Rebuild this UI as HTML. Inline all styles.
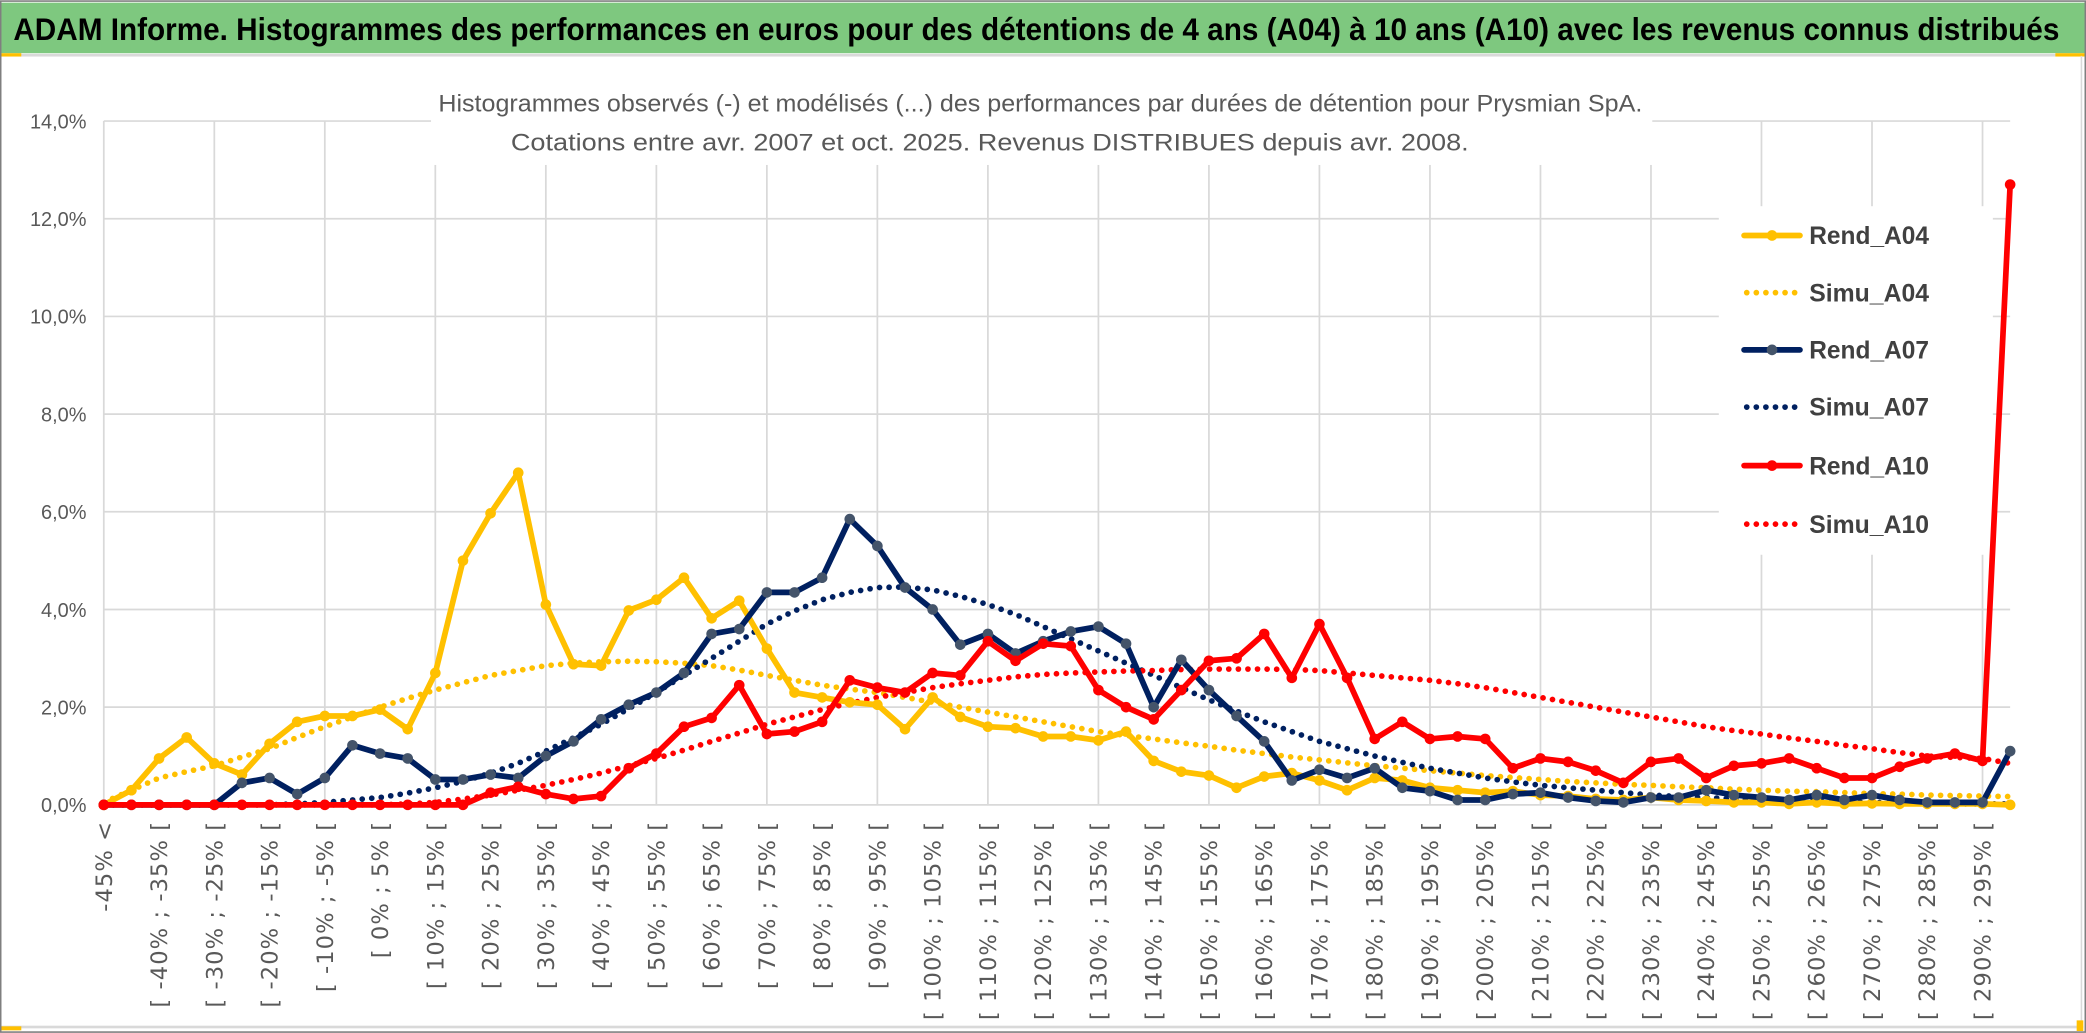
<!DOCTYPE html>
<html><head><meta charset="utf-8"><style>
html,body{margin:0;padding:0;background:#fff;}
svg{display:block;}
</style></head><body>
<svg id="chart" width="2086" height="1033" viewBox="0 0 1568 776.5" xmlns="http://www.w3.org/2000/svg">
<rect x="0" y="0" width="1568" height="776.5" fill="#fff"/>
<rect x="1" y="2" width="1566" height="38" fill="#7ec87f"/>
<text x="10" y="30" font-family="Liberation Sans, sans-serif" font-weight="bold" font-size="24" fill="#000" textLength="1538" lengthAdjust="spacingAndGlyphs">ADAM Informe. Histogrammes des performances en euros pour des détentions de 4 ans (A04) à 10 ans (A10) avec les revenus connus distribués</text>
<rect x="0" y="40.5" width="1566" height="2" fill="#d9d9d9"/>
<rect x="0" y="40" width="16" height="2.5" fill="#ffc000"/>
<rect x="1545" y="40" width="23" height="2.5" fill="#ffc000"/>
<rect x="1564" y="42" width="1.2" height="730" fill="#d9d9d9"/>
<rect x="0" y="771" width="1566" height="2" fill="#d9d9d9"/>
<rect x="0" y="771.5" width="16" height="3" fill="#ffc000"/>
<rect x="1561" y="767" width="5" height="8" fill="#ffc000"/>
<rect x="0.5" y="0.8" width="1567" height="775" fill="none" stroke="#7f7f7f" stroke-width="1.2"/>
<g id="grid"></g>
<g id="ylabels"></g>
<g id="xlabels"></g>
<rect x="324" y="58" width="918" height="66" fill="#fff"/>
<text x="782" y="84" text-anchor="middle" font-family="Liberation Sans, sans-serif" font-size="18" fill="#595959" textLength="905" lengthAdjust="spacingAndGlyphs">Histogrammes observés (-) et modélisés (...) des performances par durées de détention pour Prysmian SpA.</text>
<text x="744" y="113" text-anchor="middle" font-family="Liberation Sans, sans-serif" font-size="18" fill="#595959" textLength="720" lengthAdjust="spacingAndGlyphs">Cotations entre avr. 2007 et oct. 2025. Revenus DISTRIBUES depuis avr. 2008.</text>
<rect x="1292" y="155" width="206" height="262" fill="#fff"/>
<g id="series"></g>
<g id="legend"></g>
</svg>
<script>
const categories = ["-45% <"];
for (let a = -45; a < 300; a += 5) categories.push("[ " + a + "% ; " + (a + 5) + "% [");
const yTicks = [0, 2, 4, 6, 8, 10, 12, 14];
const yTickLabels = ["0,0%", "2,0%", "4,0%", "6,0%", "8,0%", "10,0%", "12,0%", "14,0%"];
const rendA04 = [0,0.3,0.95,1.38,0.85,0.62,1.25,1.7,1.82,1.82,1.95,1.55,2.7,5.0,5.97,6.8,4.1,2.88,2.85,3.98,4.2,4.65,3.82,4.18,3.2,2.3,2.2,2.1,2.05,1.55,2.2,1.8,1.6,1.57,1.4,1.4,1.32,1.5,0.9,0.68,0.6,0.35,0.58,0.65,0.5,0.3,0.55,0.5,0.35,0.3,0.25,0.28,0.2,0.18,0.12,0.1,0.15,0.1,0.08,0.05,0.05,0.02,0.05,0.02,0.03,0.02,0.02,0.02,0.02,0.0];
const simuA04 = [0.05,0.3,0.55,0.68,0.8,0.98,1.15,1.38,1.6,1.8,2.0,2.18,2.35,2.5,2.65,2.75,2.85,2.9,2.93,2.94,2.93,2.9,2.85,2.76,2.65,2.55,2.45,2.37,2.3,2.2,2.1,2.0,1.9,1.8,1.7,1.6,1.5,1.42,1.35,1.27,1.2,1.12,1.05,0.98,0.92,0.86,0.8,0.75,0.7,0.65,0.6,0.56,0.52,0.48,0.45,0.42,0.4,0.37,0.35,0.32,0.3,0.28,0.27,0.25,0.23,0.22,0.2,0.19,0.18,0.17];
const rendA07 = [0,0,0,0,0,0.45,0.55,0.22,0.55,1.22,1.05,0.95,0.52,0.52,0.62,0.55,1.0,1.3,1.75,2.05,2.3,2.7,3.5,3.6,4.35,4.35,4.65,5.85,5.3,4.45,4.0,3.28,3.5,3.1,3.35,3.55,3.65,3.3,2.0,2.97,2.35,1.82,1.3,0.5,0.72,0.55,0.75,0.35,0.28,0.1,0.1,0.22,0.25,0.15,0.08,0.05,0.15,0.15,0.3,0.2,0.15,0.1,0.2,0.1,0.2,0.1,0.05,0.05,0.05,1.1];
const simuA07 = [0,0,0,0,0,0,0,0.02,0.05,0.1,0.15,0.24,0.35,0.48,0.65,0.85,1.1,1.37,1.65,1.97,2.3,2.65,3.0,3.35,3.7,3.97,4.2,4.35,4.45,4.46,4.4,4.27,4.1,3.9,3.65,3.4,3.15,2.9,2.65,2.4,2.15,1.92,1.7,1.5,1.3,1.15,1.0,0.87,0.75,0.65,0.55,0.47,0.4,0.35,0.3,0.25,0.2,0.17,0.15,0.12,0.1,0.08,0.07,0.06,0.05,0.04,0.03,0.02,0.02,0.02];
const rendA10 = [0,0,0,0,0,0,0,0,0,0,0,0,0,0,0.25,0.37,0.22,0.12,0.18,0.75,1.05,1.6,1.78,2.45,1.45,1.5,1.7,2.55,2.4,2.3,2.7,2.65,3.35,2.95,3.3,3.25,2.35,2.0,1.75,2.35,2.95,3.0,3.5,2.6,3.7,2.6,1.35,1.7,1.35,1.4,1.35,0.75,0.95,0.88,0.7,0.45,0.88,0.95,0.55,0.8,0.85,0.95,0.75,0.55,0.55,0.78,0.95,1.05,0.9,12.7];
const simuA10 = [0,0,0,0,0,0,0,0,0,0,0,0.02,0.05,0.12,0.2,0.3,0.4,0.52,0.65,0.8,0.95,1.12,1.3,1.47,1.65,1.8,1.95,2.08,2.2,2.3,2.4,2.48,2.55,2.62,2.67,2.7,2.72,2.74,2.75,2.77,2.78,2.78,2.78,2.77,2.75,2.7,2.65,2.6,2.55,2.48,2.4,2.3,2.2,2.1,2.0,1.9,1.8,1.7,1.6,1.52,1.45,1.37,1.3,1.22,1.15,1.07,1.0,0.97,0.95,0.85];

const NS = "http://www.w3.org/2000/svg";
const X0 = 78, X1 = 1511, Y0 = 605, Y14 = 91;
function xPos(i) { return X0 + i * (X1 - X0) / (categories.length - 1); }
function yPos(v) { return Y0 - v * (Y0 - Y14) / 14; }
function mk(tag, attrs, parent) {
  const e = document.createElementNS(NS, tag);
  for (const k in attrs) e.setAttribute(k, attrs[k]);
  parent.appendChild(e);
  return e;
}
const grid = document.getElementById('grid');
yTicks.forEach((t, k) => {
  const l = mk('line', {x1: X0, x2: X1, y1: yPos(t), y2: yPos(t), stroke: '#d9d9d9', 'stroke-width': 1.3}, grid);
  
  
  const tx = mk('text', {x: 65, y: yPos(t) + 5.5, 'text-anchor': 'end', 'font-family': 'Liberation Sans, sans-serif', 'font-size': 15, fill: '#595959'}, document.getElementById('ylabels'));
  tx.textContent = yTickLabels[k];
  
  
});
for (let i = 0; i < categories.length; i += 4) {
  const l = mk('line', {x1: xPos(i), x2: xPos(i), y1: Y14, y2: Y0, stroke: '#d9d9d9', 'stroke-width': 1.3}, grid);
  
  
}
const xl = document.getElementById('xlabels');
for (let i = 0; i < categories.length - 1; i += 2) {
  const x = xPos(i) + 6, y = 617;
  const t = mk('text', {x: x, y: y, transform: 'rotate(-90 ' + x + ' ' + y + ')', 'text-anchor': 'end', 'font-family': 'DejaVu Sans, sans-serif', 'font-size': 17, 'letter-spacing': 0.8, fill: '#595959'}, xl);
  t.textContent = categories[i];
  
  
}
const series = document.getElementById('series');
function pts(arr) { return arr.map((v, i) => xPos(i).toFixed(2) + ',' + yPos(v).toFixed(2)).join(' '); }
function dotted(arr, color, name) {
  const p = mk('polyline', {points: pts(arr), fill: 'none', stroke: color, 'stroke-width': 4.3, 'stroke-linecap': 'round', 'stroke-dasharray': '0 7.2'}, series);
  
  
}
function solid(arr, color, mcolor, name) {
  const g = mk('g', {}, series);
  
  
  mk('polyline', {points: pts(arr), fill: 'none', stroke: color, 'stroke-width': 4.3, 'stroke-linejoin': 'round'}, g);
  arr.forEach((v, i) => {
    const c = mk('circle', {cx: xPos(i), cy: yPos(v), r: 4, fill: mcolor}, g);
    
    
  });
}
dotted(simuA04, '#ffc000', 'simu-a04-line');
dotted(simuA07, '#002060', 'simu-a07-line');
dotted(simuA10, '#ff0000', 'simu-a10-line');
solid(rendA04, '#ffc000', '#ffc000', 'rend-a04-line');
solid(rendA07, '#002060', '#44546a', 'rend-a07-line');
solid(rendA10, '#ff0000', '#ff0000', 'rend-a10-line');

const legendNames = ["Rend_A04", "Simu_A04", "Rend_A07", "Simu_A07", "Rend_A10", "Simu_A10"];
const legendColors = ["#ffc000", "#ffc000", "#002060", "#002060", "#ff0000", "#ff0000"];
const legendY = [177, 220, 263, 306, 350, 394];
const lg = document.getElementById('legend');
legendNames.forEach((n, k) => {
  const g = mk('g', {}, lg);
  
  
  const y = legendY[k];
  if (k % 2 === 0) {
    mk('line', {x1: 1311, x2: 1353, y1: y, y2: y, stroke: legendColors[k], 'stroke-width': 4.3, 'stroke-linecap': 'round'}, g);
    mk('circle', {cx: 1332, cy: y, r: 4, fill: k === 2 ? '#44546a' : legendColors[k]}, g);
  } else {
    mk('line', {x1: 1313, x2: 1353, y1: y, y2: y, stroke: legendColors[k], 'stroke-width': 4.3, 'stroke-linecap': 'round', 'stroke-dasharray': '0 7.2'}, g);
  }
  const t = mk('text', {x: 1360, y: y + 6.5, 'font-family': 'Liberation Sans, sans-serif', 'font-size': 19, 'font-weight': 'bold', fill: '#404040', textLength: 90, lengthAdjust: 'spacingAndGlyphs'}, g);
  t.textContent = n;
});
</script>
</body></html>
